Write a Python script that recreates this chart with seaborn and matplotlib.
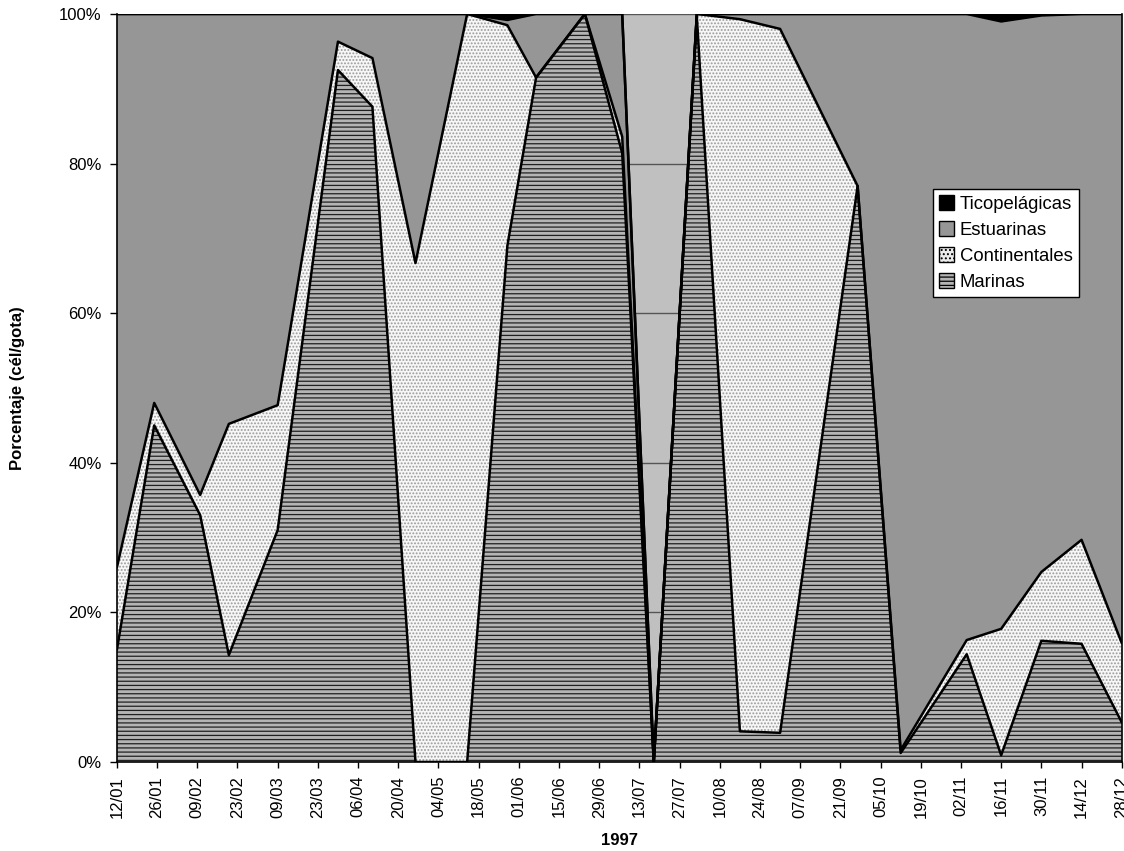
import pandas as pd
import numpy as np
import matplotlib
matplotlib.use('Agg')
import matplotlib.pyplot as plt
from matplotlib.patches import Patch
from matplotlib.ticker import PercentFormatter
import seaborn as sns

# Fechas de muestreo (dia/mes, 1997)
fechas = ['12/01', '25/01', '10/02', '20/02', '09/03', '30/03', '11/04', '26/04',
          '14/05', '28/05', '07/06', '24/06', '07/07', '18/07', '02/08', '17/08',
          '31/08', '27/09', '12/10', '04/11', '16/11', '30/11', '14/12', '28/12']

# Porcentaje de cada grupo (cel/gota)
marinas = [15.0, 45.0, 33.0, 14.3, 31.0, 92.5, 87.6, 0.0,
           0.0, 69.0, 91.5, 100.0, 81.4, 0.0, 99.6, 4.1,
           3.9, 77.0, 1.2, 14.4, 0.9, 16.2, 15.8, 5.3]
continentales = [11.0, 3.0, 2.7, 30.9, 16.7, 3.8, 6.5, 66.7,
                 100.0, 29.5, 0.0, 0.0, 2.2, 0.0, 0.4, 95.2,
                 94.1, 0.0, 0.4, 1.9, 16.9, 9.2, 13.9, 10.6]
estuarinas = [74.0, 52.0, 64.3, 54.8, 52.3, 3.7, 5.9, 33.3,
              0.0, 0.7, 8.5, 0.0, 16.4, 0.0, 0.0, 0.7,
              2.0, 23.0, 98.4, 83.7, 81.2, 74.4, 70.3, 84.1]
ticopelagicas = [0.0, 0.0, 0.0, 0.0, 0.0, 0.0, 0.0, 0.0,
                 0.0, 0.8, 0.0, 0.0, 0.0, 0.0, 0.0, 0.0,
                 0.0, 0.0, 0.0, 0.0, 1.0, 0.2, 0.0, 0.0]

tick_labels = ['12/01', '26/01', '09/02', '23/02', '09/03', '23/03', '06/04', '20/04',
               '04/05', '18/05', '01/06', '15/06', '29/06', '13/07', '27/07', '10/08',
               '24/08', '07/09', '21/09', '05/10', '19/10', '02/11', '16/11', '30/11',
               '14/12', '28/12']

capas = ['Marinas', 'Continentales', 'Estuarinas', 'Ticopelágicas']
estilos = {
    'Marinas': dict(facecolor='#b4b4b4', edgecolor='#202020', hatch='----'),
    'Continentales': dict(facecolor='#f7f7f7', edgecolor='#9a9a9a', hatch='.....'),
    'Estuarinas': dict(facecolor='#969696', edgecolor='#969696', hatch=None),
    'Ticopelágicas': dict(facecolor='black', edgecolor='black', hatch=None),
}

sns.set_style('white')
plt.rcParams['font.family'] = ['Liberation Sans', 'DejaVu Sans']
plt.rcParams['hatch.linewidth'] = 0.9
plt.rcParams['text.color'] = 'black'
plt.rcParams['xtick.color'] = 'black'
plt.rcParams['ytick.color'] = 'black'
plt.rcParams['axes.labelcolor'] = 'black'

df = pd.DataFrame({
    'Fecha': pd.to_datetime([f + '/1997' for f in fechas], format='%d/%m/%Y'),
    'Marinas': marinas,
    'Continentales': continentales,
    'Estuarinas': estuarinas,
    'Ticopelágicas': ticopelagicas,
})
tops = df[capas].cumsum(axis=1) / 100.0

fig = plt.figure(figsize=(11.24, 8.51), dpi=100)
ax = fig.add_axes([0.104, 0.1046, 0.894, 0.879])
ax.set_facecolor('#c0c0c0')

# Areas apiladas
base = np.zeros(len(df))
for capa in capas:
    e = estilos[capa]
    ax.fill_between(df['Fecha'], base, tops[capa], facecolor=e['facecolor'],
                    edgecolor=e['edgecolor'], hatch=e['hatch'], linewidth=0, zorder=2)
    base = tops[capa].values

# Bordes de cada serie
bordes = tops.assign(Fecha=df['Fecha']).melt(id_vars='Fecha', var_name='Serie', value_name='Valor')
sns.lineplot(data=bordes, x='Fecha', y='Valor', hue='Serie', palette=['black'] * 4,
             linewidth=1.8, legend=False, ax=ax, zorder=3)

# Ejes
tick_dates = pd.to_datetime([t + '/1997' for t in tick_labels], format='%d/%m/%Y')
ax.set_xlim(tick_dates[0], df['Fecha'].iloc[-1])
ax.set_ylim(0, 1)
ax.set_xticks(tick_dates)
ax.set_xticklabels(tick_labels, rotation=90, fontsize=12)
ax.set_yticks(np.arange(0, 1.01, 0.2))
ax.yaxis.set_major_formatter(PercentFormatter(1.0, decimals=0))
ax.tick_params(axis='y', labelsize=12, length=5, pad=6)
ax.tick_params(axis='x', length=4, pad=6)
ax.tick_params(axis='both', direction='out', width=1, color='black', bottom=True, left=True)
ax.grid(axis='y', color='#555555', linewidth=1, zorder=1)
ax.grid(axis='x', visible=False)
ax.set_axisbelow(True)
for lado in ['left', 'bottom', 'right']:
    ax.spines[lado].set_color('black')
    ax.spines[lado].set_linewidth(1.2)
ax.spines['top'].set_visible(False)

ax.set_xlabel('1997', fontsize=12, fontweight='bold')
ax.set_ylabel('Porcentaje (cél/gota)', fontsize=12, fontweight='bold')
ax.xaxis.set_label_coords(0.5, -0.095)
ax.yaxis.set_label_coords(-0.091, 0.5)

# Leyenda
handles = [Patch(facecolor='black', edgecolor='black', label='Ticopelágicas'),
           Patch(facecolor='#969696', edgecolor='black', label='Estuarinas'),
           Patch(facecolor='#ececec', edgecolor='black', hatch='....', label='Continentales'),
           Patch(facecolor='#b4b4b4', edgecolor='black', hatch='----', label='Marinas')]
leg = ax.legend(handles=handles, loc='upper left', bbox_to_anchor=(0.812, 0.766),
                borderaxespad=0, fontsize=13.3, frameon=True, fancybox=False,
                handlelength=0.8, handleheight=0.8, handletextpad=0.3,
                labelspacing=0.46, borderpad=0.35)
leg.get_frame().set_edgecolor('black')
leg.get_frame().set_facecolor('white')
leg.get_frame().set_alpha(1)
leg.get_frame().set_linewidth(1)
leg.set_zorder(5)

fig.savefig('out.png', dpi=100)
